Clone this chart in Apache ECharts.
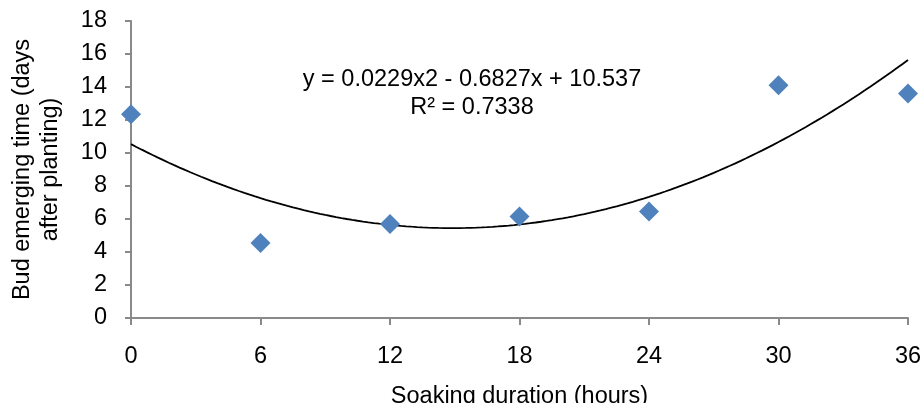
<!DOCTYPE html>
<html>
<head>
<meta charset="utf-8">
<script src="https://cdn.jsdelivr.net/npm/echarts@6/dist/echarts.min.js"></script>
<style>
  html, body { margin: 0; padding: 0; background: #fff; }
  #chart { width: 924px; height: 403px; }
</style>
</head>
<body>
<div id="chart"></div>
<script>
// Soaking duration (hours) and bud emerging time (days after planting)
const soakingHours = [0, 6, 12, 18, 24, 30, 36];
const budDays = [12.35, 4.55, 5.7, 6.15, 6.45, 14.1, 13.6];

// Polynomial (order 2) trendline coefficients: a*x^2 + b*x + c
const trendCoeffs = [0.0229, -0.6827, 10.537];
const trendLabel = ['y = 0.0229x2 - 0.6827x + 10.537', 'R² = 0.7338'];

const xTicks = [0, 6, 12, 18, 24, 30, 36];
const yTicks = [0, 2, 4, 6, 8, 10, 12, 14, 16, 18];

const FONT = 'Liberation Sans, Arial, sans-serif';
const FS = 23.5;

// sample the fitted curve across the x range
const trendPoints = [];
for (let i = 0; i <= 144; i++) {
  const x = 36 * i / 144;
  trendPoints.push([x, trendCoeffs[0] * x * x + trendCoeffs[1] * x + trendCoeffs[2]]);
}

const chart = echarts.init(document.getElementById('chart'), null, { renderer: 'canvas' });
const axisGray = '#898989';

chart.setOption({
  animation: false,
  backgroundColor: '#ffffff',
  textStyle: { fontFamily: FONT },
  grid: { left: 131, right: 16, top: 21, bottom: 85, containLabel: false, outerBoundsMode: 'none' },
  xAxis: {
    type: 'value',
    min: xTicks[0],
    max: xTicks[xTicks.length - 1],
    interval: 6,
    name: 'Soaking duration (hours)',
    nameLocation: 'middle',
    nameGap: 67,
    nameTextStyle: { fontSize: FS, color: '#000', fontFamily: FONT },
    axisLine: { lineStyle: { color: axisGray, width: 2 } },
    axisTick: { show: true, length: 7, lineStyle: { color: axisGray, width: 2 } },
    axisLabel: { fontSize: FS, color: '#000', margin: 27, fontFamily: FONT },
    splitLine: { show: false }
  },
  yAxis: {
    type: 'value',
    min: yTicks[0],
    max: yTicks[yTicks.length - 1],
    interval: 2,
    name: 'Bud emerging time (days\nafter planting)',
    nameLocation: 'middle',
    nameGap: 66,
    nameTextStyle: { fontSize: FS, color: '#000', lineHeight: 28, fontFamily: FONT },
    axisLine: { show: true, lineStyle: { color: axisGray, width: 2 } },
    axisTick: { show: true, length: 6, lineStyle: { color: axisGray, width: 2 } },
    axisLabel: { fontSize: FS, color: '#000', margin: 24, fontFamily: FONT },
    splitLine: { show: false }
  },
  graphic: [
    {
      type: 'text',
      x: 472,
      y: 66,
      style: {
        text: trendLabel.join('\n'),
        font: FS + 'px ' + FONT,
        fill: '#000',
        align: 'center',
        verticalAlign: 'top',
        lineHeight: 28
      }
    }
  ],
  series: [
    {
      type: 'line',
      data: trendPoints,
      showSymbol: false,
      symbol: 'none',
      lineStyle: { color: '#000', width: 1.8 },
      z: 2
    },
    {
      type: 'scatter',
      data: soakingHours.map((h, i) => [h, budDays[i]]),
      symbol: 'diamond',
      symbolSize: [20, 20],
      itemStyle: { color: '#4F81BD', opacity: 1 },
      z: 3
    }
  ]
});
</script>
</body>
</html>
